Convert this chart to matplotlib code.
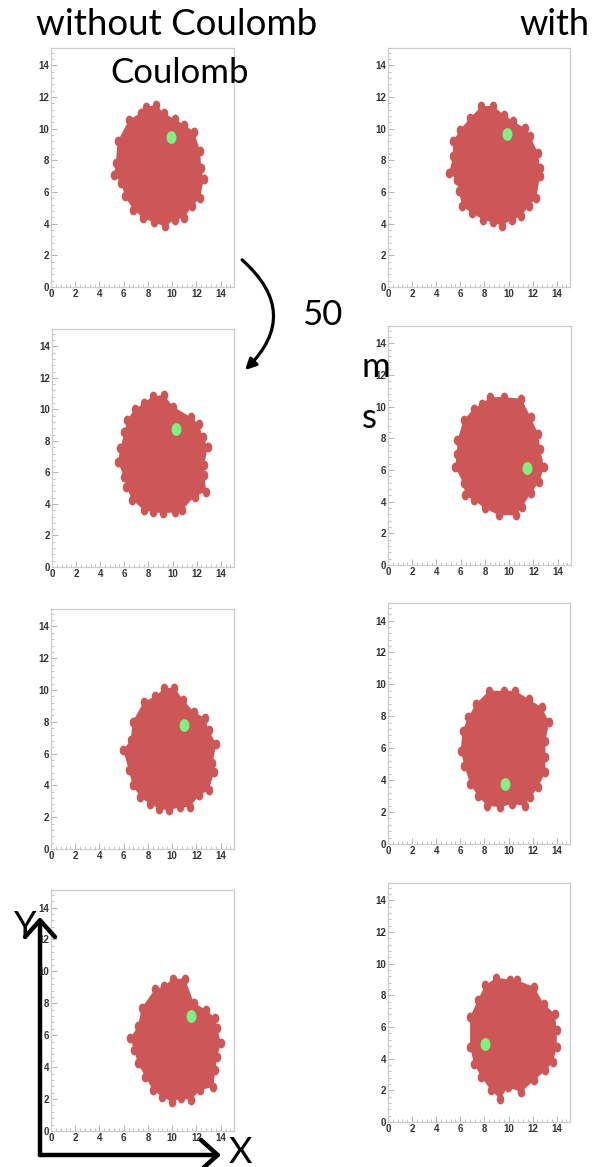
import numpy as np
import matplotlib
matplotlib.use('Agg')
import matplotlib.pyplot as plt
from matplotlib.patches import FancyArrowPatch
from matplotlib.path import Path
from matplotlib.ticker import MultipleLocator

# ── 数据: 每个面板的云团轮廓点 (x, y) 与绿色标记粒子 ──────────────
# 第1行 (t = 0)
r1_wo_x = [8.65, 9.3, 10.2, 11.0, 11.8, 12.3, 12.4, 12.6, 12.3, 11.6, 11.0, 10.2, 9.4, 8.5, 7.6, 6.8, 6.1, 5.8, 5.2, 5.35, 5.5, 6.45, 7.4, 7.86]
r1_wo_y = [11.5, 11.0, 10.6, 10.25, 9.8, 8.6, 7.5, 6.8, 5.6, 5.1, 4.36, 4.25, 3.83, 4.08, 4.36, 4.88, 5.73, 6.57, 7.1, 7.83, 9.2, 10.57, 10.99, 11.37]
r1_wo_g = (9.9, 9.5)

r1_w_x = [7.74, 8.68, 9.62, 10.4, 11.35, 11.8, 12.45, 12.6, 12.6, 12.3, 11.66, 11.03, 10.25, 9.47, 8.68, 7.9, 6.96, 6.18, 5.86, 5.7, 5.08, 5.39, 5.39, 6.0, 6.8]
r1_w_y = [11.41, 11.45, 10.88, 10.46, 10.04, 9.52, 8.46, 7.52, 6.99, 5.62, 5.09, 4.46, 4.25, 3.87, 4.08, 4.25, 4.67, 5.09, 6.04, 6.78, 7.2, 8.25, 9.2, 9.94, 10.67]
r1_w_g = (9.87, 9.66)

# 第2行 (t = 50 ms)
r2_wo_x = [8.36, 9.29, 10.05, 11.55, 12.16, 12.5, 12.92, 12.64, 12.64, 12.79, 11.83, 10.82, 10.19, 9.23, 8.36, 7.6, 6.64, 6.17, 5.96, 5.46, 5.68, 6.01, 6.23, 6.85, 7.6]
r2_wo_y = [10.84, 10.91, 10.17, 9.49, 9.07, 8.27, 7.64, 6.48, 5.84, 4.79, 4.47, 3.63, 3.46, 3.42, 3.46, 3.63, 4.26, 5.1, 5.74, 6.69, 7.53, 8.59, 9.32, 10.0, 10.38]
r2_wo_g = (10.25, 8.73)

r2_w_x = [8.45, 9.56, 11.0, 11.77, 12.38, 12.55, 12.88, 12.47, 11.77, 11.08, 10.53, 9.14, 8.03, 7.06, 6.37, 6.23, 5.54, 5.68, 5.73, 6.23, 7.06, 7.76]
r2_w_y = [10.61, 10.61, 10.5, 9.35, 8.3, 7.35, 6.19, 5.25, 4.52, 3.68, 3.15, 3.15, 3.57, 4.1, 4.41, 5.15, 6.19, 7.04, 7.88, 9.14, 9.87, 10.19]
r2_w_g = (11.44, 6.15)

# 第3行
r3_wo_x = [9.34, 10.19, 10.9, 11.76, 12.7, 13.0, 13.64, 13.32, 13.48, 13.0, 12.23, 11.44, 10.66, 9.72, 8.93, 8.15, 7.37, 6.74, 6.43, 5.96, 6.58, 6.74, 7.68, 8.62]
r3_wo_y = [10.13, 10.13, 9.39, 8.65, 8.23, 7.49, 6.6, 5.38, 4.85, 3.69, 3.38, 2.64, 2.64, 2.43, 2.53, 2.85, 3.27, 4.0, 4.96, 6.22, 6.86, 8.02, 9.28, 9.6]
r3_wo_g = (10.97, 7.8)

r3_w_x = [8.38, 9.63, 10.56, 11.66, 12.75, 13.38, 13.06, 13.06, 13.06, 12.44, 11.81, 11.34, 10.25, 9.31, 8.22, 7.44, 6.81, 6.34, 6.03, 6.19, 6.66, 7.28]
r3_w_y = [9.6, 9.6, 9.6, 9.08, 8.56, 7.62, 6.47, 5.43, 4.49, 3.55, 2.92, 2.4, 2.51, 2.3, 2.4, 3.03, 3.76, 4.91, 5.85, 7.1, 7.93, 8.77]
r3_w_g = (9.69, 3.76)

# 第4行
r4_wo_x = [10.03, 11.06, 11.78, 12.77, 13.55, 13.71, 14.02, 13.71, 13.55, 13.4, 12.3, 11.53, 10.75, 9.97, 9.19, 8.41, 7.79, 7.17, 6.85, 6.54, 7.17, 7.48, 8.57, 9.35]
r4_wo_y = [9.54, 9.54, 8.03, 7.61, 7.08, 6.45, 5.5, 4.66, 3.82, 2.77, 2.56, 1.93, 2.04, 1.83, 2.14, 2.56, 3.4, 4.24, 5.08, 5.82, 6.55, 7.71, 8.87, 9.08]
r4_wo_g = (11.59, 7.19)

r4_w_x = [9.0, 10.09, 10.72, 12.13, 12.91, 13.84, 14.0, 14.0, 13.69, 13.06, 12.13, 11.03, 9.94, 9.31, 8.53, 7.75, 7.13, 6.81, 6.81, 7.44, 8.06]
r4_w_y = [9.12, 8.99, 8.95, 8.53, 7.47, 6.84, 5.79, 4.74, 3.79, 3.26, 2.63, 1.89, 2.21, 1.47, 2.0, 2.84, 3.68, 4.74, 6.63, 7.68, 8.63]
r4_w_g = (8.06, 4.95)

blobs = [
    (r1_wo_x, r1_wo_y, r1_wo_g), (r1_w_x, r1_w_y, r1_w_g),
    (r2_wo_x, r2_wo_y, r2_wo_g), (r2_w_x, r2_w_y, r2_w_g),
    (r3_wo_x, r3_wo_y, r3_wo_g), (r3_w_x, r3_w_y, r3_w_g),
    (r4_wo_x, r4_wo_y, r4_wo_g), (r4_w_x, r4_w_y, r4_w_g),
]

# 面板像素位置 (left, top, right, bottom)
W, H = 594, 1167
boxes = [
    (51, 48, 234, 287), (388, 48, 570, 287),
    (52, 329, 234, 567), (388, 326, 571, 565),
    (51, 609, 234, 849), (388, 603, 570, 844),
    (51, 890, 234, 1131), (388, 883, 570, 1122),
]

RED = '#cd5757'
GREEN = '#80f080'
TXT_FONT = ['Lato', 'DejaVu Sans']
TICK_FONT = ['Liberation Sans Narrow', 'Liberation Sans', 'DejaVu Sans']

# 椭圆形标记 (原图纵向拉伸)
t = np.linspace(0, 2 * np.pi, 40)
ell = Path(np.column_stack([np.cos(t), 1.3 * np.sin(t)]))

fig = plt.figure(figsize=(W / 100, H / 100), dpi=100)

for (bx, by, g), (l, tp, r, b) in zip(blobs, boxes):
    ax = fig.add_axes([l / W, 1 - b / H, (r - l) / W, (b - tp) / H])
    ax.fill(bx, by, color=RED, lw=0, zorder=2)
    ax.scatter(bx, by, s=50, marker=ell, color=RED, lw=0, zorder=3)
    ax.scatter([g[0]], [g[1]], s=85, marker=ell, color=GREEN, lw=0, zorder=4)
    ax.set_xlim(0, 15.1)
    ax.set_ylim(0, 15.1)
    ax.xaxis.set_major_locator(MultipleLocator(2))
    ax.yaxis.set_major_locator(MultipleLocator(2))
    ax.xaxis.set_minor_locator(MultipleLocator(0.4))
    ax.yaxis.set_minor_locator(MultipleLocator(0.4))
    ax.tick_params(which='both', direction='in', color='#aaaaaa', labelsize=7,
                   labelcolor='#333333', pad=1.5)
    ax.tick_params(which='major', length=4, width=0.6)
    ax.tick_params(which='minor', length=2, width=0.5)
    for lab in ax.get_xticklabels() + ax.get_yticklabels():
        lab.set_fontweight('bold')
        lab.set_family(TICK_FONT)
    for sp in ax.spines.values():
        sp.set_color('#cccccc')
        sp.set_linewidth(0.9)


def ftext(px, py, s, size=25):
    fig.text(px / W, 1 - py / H, s, family=TXT_FONT, fontsize=size,
             va='baseline', ha='left', zorder=10)


ftext(36, 35, 'without Coulomb', size=26.5)
ftext(519, 35, 'with', size=26)
ftext(110, 83, 'Coulomb')
ftext(302, 325, '50')
ftext(362, 377, 'm')
ftext(362, 428, 's')
ftext(14, 937, 'Y', size=26)
ftext(229, 1163, 'X', size=26)


def fpos(px, py):
    return (px / W, 1 - py / H)


# 50 ms 弯箭头
arc = FancyArrowPatch(fpos(240, 258), fpos(243, 372), transform=fig.transFigure,
                      connectionstyle='arc3,rad=-0.55', arrowstyle='-|>',
                      mutation_scale=16, lw=2.3, color='black', zorder=10)
fig.patches.append(arc)

# X / Y 坐标轴箭头
for end in [(40, 917), (221, 1155)]:
    a = FancyArrowPatch(fpos(40, 1155), fpos(*end), transform=fig.transFigure,
                        arrowstyle='->,head_length=0.5,head_width=0.45',
                        mutation_scale=24, lw=3.2, color='black',
                        shrinkA=0, shrinkB=0, zorder=10)
    fig.patches.append(a)

fig.savefig('out.png', dpi=100)
